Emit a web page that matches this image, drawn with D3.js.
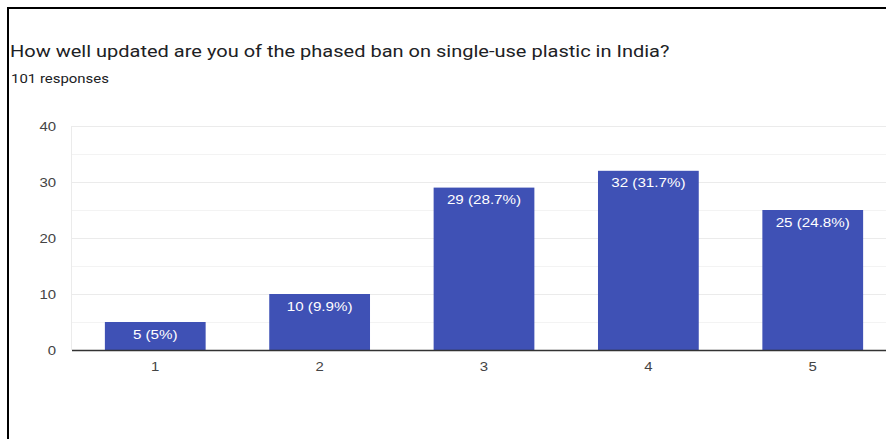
<!DOCTYPE html>
<html>
<head>
<meta charset="utf-8">
<script src="https://cdn.jsdelivr.net/npm/d3@7"></script>
<style>
  html, body { margin: 0; padding: 0; background: #fff; overflow: hidden; }
  svg { display: block; font-family: Roboto, Arial, sans-serif; }
</style>
</head>
<body>
<svg id="chart" width="886" height="439"></svg>
<script>
// Survey answers on a 1–5 scale, with response counts and shares
const categories = ["1", "2", "3", "4", "5"];
const counts = [5, 10, 29, 32, 25];
const percents = ["5%", "9.9%", "28.7%", "31.7%", "24.8%"];
const yTicks = [0, 10, 20, 30, 40];
const title = "How well updated are you of the phased ban on single-use plastic in India?";
const subtitle = "101 responses";

const CHART_FONT = "'Liberation Sans', Arial, sans-serif";
const SX = 1.15; // horizontal text stretch of the exported image
const svg = d3.select("#chart");

// Frame lines along the left and top edges
svg.append("line").attr("x1", 8).attr("x2", 8).attr("y1", 7).attr("y2", 439)
  .attr("stroke", "#000").attr("stroke-width", 2);
svg.append("line").attr("x1", 7).attr("x2", 886).attr("y1", 8).attr("y2", 8)
  .attr("stroke", "#000").attr("stroke-width", 2);

svg.append("text").attr("transform", `translate(10,57) scale(${SX},1)`)
  .attr("font-size", 17.4).attr("fill", "#202124").text(title);
svg.append("text").attr("transform", `translate(11,83) scale(${SX},1)`)
  .attr("font-size", 13).attr("fill", "#202124").text(subtitle);

const plotLeft = 72, plotRight = 896, plotTop = 126, plotBottom = 350;

const x = d3.scaleBand().domain(categories).range([plotLeft, plotRight]).paddingInner(0.387).paddingOuter(0.2);
const y = d3.scaleLinear().domain([0, 40]).range([plotBottom, plotTop]);

// Minor gridlines at the half steps
const minor = d3.range(5, 40, 10);
svg.append("g").selectAll("line").data(minor).join("line")
  .attr("x1", plotLeft).attr("x2", 886)
  .attr("y1", d => y(d) + 0.5).attr("y2", d => y(d) + 0.5)
  .attr("stroke", "#f3f3f3").attr("stroke-width", 1);

// Major gridlines
svg.append("g").selectAll("line").data(yTicks.filter(d => d > 0)).join("line")
  .attr("x1", plotLeft).attr("x2", 886)
  .attr("y1", d => y(d) + 0.5).attr("y2", d => y(d) + 0.5)
  .attr("stroke", "#ebebeb").attr("stroke-width", 1);

// Left edge of plot area
svg.append("line").attr("x1", plotLeft - 0.5).attr("x2", plotLeft - 0.5)
  .attr("y1", plotTop).attr("y2", plotBottom)
  .attr("stroke", "#ebebeb");

// Y axis tick labels
const yPad = 16;
const yAxis = d3.axisLeft(y).tickValues(yTicks).tickSize(0).tickPadding(yPad);
const gy = svg.append("g").attr("transform", `translate(${plotLeft},0)`).call(yAxis);
gy.select(".domain").remove();
gy.selectAll("text")
  .attr("font-size", 13).attr("fill", "#444").attr("font-family", CHART_FONT)
  .attr("x", -yPad / SX).attr("transform", `scale(${SX},1)`);

// Bars
svg.append("g").selectAll("rect").data(counts).join("rect")
  .attr("x", (d, i) => x(categories[i]))
  .attr("y", d => y(d))
  .attr("width", x.bandwidth())
  .attr("height", d => y(0) - y(d))
  .attr("fill", "#3f51b5");

// Value labels inside bar tops
svg.append("g").selectAll("text").data(counts).join("text")
  .attr("transform", (d, i) => `translate(${x(categories[i]) + x.bandwidth() / 2},${y(d) + 16.5}) scale(${SX},1)`)
  .attr("text-anchor", "middle")
  .attr("font-size", 13.2)
  .attr("font-family", CHART_FONT)
  .attr("fill", "#fff")
  .text((d, i) => `${d} (${percents[i]})`);

// X axis baseline and labels
const xAxis = d3.axisBottom(x).tickSize(0).tickPadding(12);
const gx = svg.append("g").attr("transform", `translate(0,${plotBottom})`).call(xAxis);
gx.select(".domain").remove();
gx.selectAll("text")
  .attr("font-size", 13).attr("fill", "#444").attr("font-family", CHART_FONT)
  .attr("transform", `scale(${SX},1)`);
svg.append("line").attr("x1", plotLeft).attr("x2", 886)
  .attr("y1", plotBottom + 0.5).attr("y2", plotBottom + 0.5)
  .attr("stroke", "#333").attr("stroke-width", 1.5);
</script>
</body>
</html>
